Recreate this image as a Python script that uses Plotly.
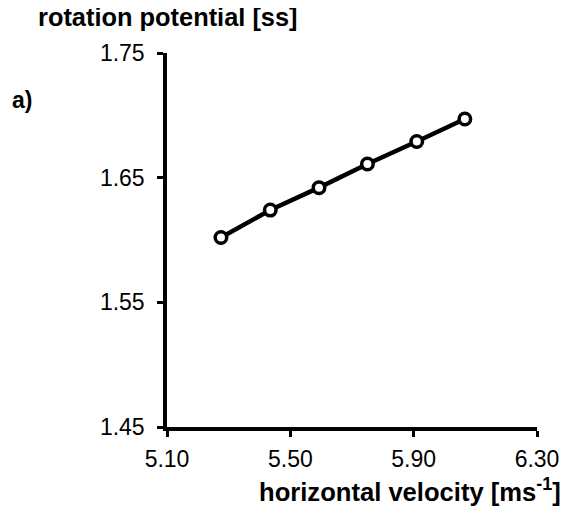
import plotly.graph_objects as go

velocity = [5.275, 5.435, 5.593, 5.750, 5.910, 6.066]
rotation = [1.602, 1.624, 1.642, 1.661, 1.679, 1.697]
x_ticks = [5.10, 5.50, 5.90, 6.30]
y_ticks = [1.45, 1.55, 1.65, 1.75]

FONT = "Liberation Sans, Arial, sans-serif"

fig = go.Figure()
fig.add_trace(go.Scatter(
    x=velocity, y=rotation, mode="lines+markers",
    line=dict(color="black", width=4.5),
    marker=dict(symbol="circle", size=11.5, color="white",
                line=dict(color="black", width=3.5)),
    showlegend=False, cliponaxis=False,
))

# page body has an 8px margin, so the figure is 8px smaller than the window
fig.update_layout(
    width=563, height=503,
    margin=dict(l=159, r=29, t=45, b=84),
    paper_bgcolor="white", plot_bgcolor="white",
    font=dict(family=FONT, color="black", size=23),
    xaxis=dict(range=[5.10, 6.30], tickvals=x_ticks,
               ticktext=[f"{v:.2f}" for v in x_ticks],
               showgrid=False, zeroline=False, showline=True,
               linecolor="black", linewidth=3.5,
               ticks="outside", ticklen=6, tickwidth=3, tickcolor="black",
               ticklabelstandoff=3, tickfont=dict(size=23)),
    yaxis=dict(range=[1.45, 1.75], tickvals=y_ticks,
               ticktext=[f"{v:.2f}" for v in y_ticks],
               showgrid=False, zeroline=False, showline=True,
               linecolor="black", linewidth=3.5,
               ticks="outside", ticklen=6, tickwidth=3, tickcolor="black",
               ticklabelstandoff=8, tickfont=dict(size=23)),
    annotations=[
        dict(text="<b>rotation potential [ss]</b>", xref="paper", yref="paper",
             x=-0.355, y=1.096, xanchor="left", yanchor="middle",
             showarrow=False, font=dict(size=25.4)),
        dict(text="<b>a)</b>", xref="paper", yref="paper",
             x=-0.424, y=0.874, xanchor="left", yanchor="middle",
             showarrow=False, font=dict(size=23)),
        dict(text="<b>horizontal velocity [ms<sup>-1</sup>]</b>", xref="paper", yref="paper",
             x=1.069, y=-0.168, xanchor="right", yanchor="middle",
             showarrow=False, font=dict(size=25.6)),
    ],
)

fig.write_html("out.html")
